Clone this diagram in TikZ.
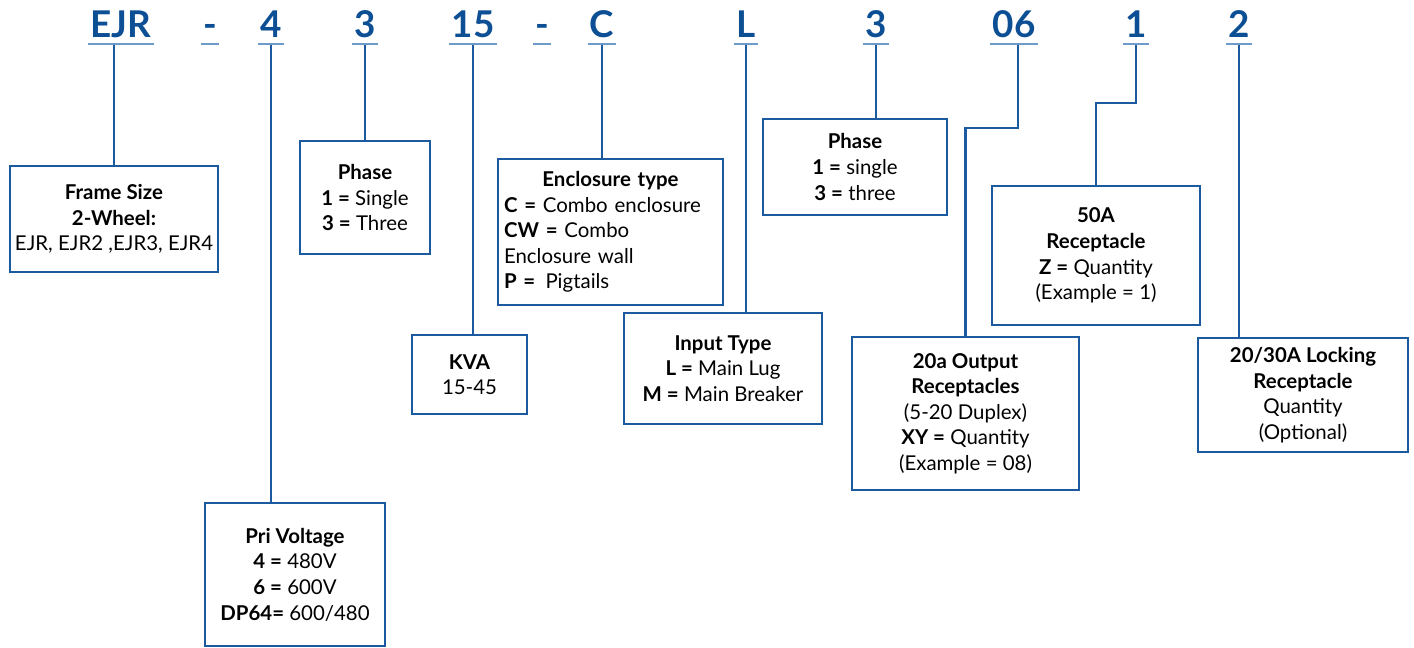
\documentclass[tikz,border=0pt]{standalone}
\usepackage{fontspec}
\setmainfont{Lato}
\definecolor{lineblue}{HTML}{1B5A9E}
\definecolor{headblue}{HTML}{0D4F94}
\definecolor{ulblue}{HTML}{6D9CCB}
\begin{document}
\begin{tikzpicture}[x=1bp,y=-1bp,
 box/.style={draw=lineblue, line width=2.6bp, align=center, inner sep=0pt, font=\fontsize{20.5}{25.7}\selectfont},
 conn/.style={draw=lineblue, line width=2.6bp},
 head/.style={text=headblue, font=\fontsize{37}{37}\selectfont\bfseries, anchor=base, inner xsep=2bp, inner ysep=0pt},
 uline/.style={draw=ulblue, line width=2bp}]
\useasboundingbox[fill=white] (0,0) rectangle (1414,648);

% header codes
\node[head] (hEJR) at (121,38) {EJR};
\node[head] (hd1) at (210,38) {-};
\node[head] (h4) at (271,38) {4};
\node[head] (h3) at (365,38) {3};
\node[head] (h15) at (473,38) {15};
\node[head] (hd2) at (542,38) {-};
\node[head] (hC) at (602,38) {C};
\node[head] (hL) at (746,38) {L};
\node[head] (h3b) at (876,38) {3};
\node[head] (h06) at (1014,38) {06};
\node[head] (h1) at (1136,38) {1};
\node[head] (h2) at (1239,38) {2};

\foreach \h in {hEJR,hd1,h4,h3,h15,hd2,hC,hL,h3b,h06,h1,h2}{
  \draw[uline] ([yshift=-6bp]\h.base west) -- ([yshift=-6bp]\h.base east);
  \coordinate (u\h) at ([yshift=-7bp]\h.base);
}

% boxes
\node[box, minimum width=208bp, minimum height=106bp] (fs) at (114,219)
 {\textbf{Frame Size}\\ \textbf{2-Wheel:}\\ EJR, EJR2 ,EJR3, EJR4};
\node[box, minimum width=130bp, minimum height=113bp] (ph) at (365,197.5)
 {\textbf{Phase}\\ \textbf{1 =} Single\\ \textbf{3 =} Three};
\node[box, align=left, text width=213bp, inner xsep=6bp, minimum height=146bp] (en) at (610.5,232)
 {\makebox[\linewidth]{\textbf{Enclosure type}}\\ \textbf{C =} Combo enclosure\\ \textbf{CW =} Combo\\ Enclosure wall\\ \textbf{P =}\enspace Pigtails};
\node[box, minimum width=115bp, minimum height=79bp] (kva) at (469.5,374.5)
 {\textbf{KVA}\\ 15-45};
\node[box, minimum width=198bp, minimum height=111bp] (it) at (723,368.5)
 {\textbf{Input Type}\\ \textbf{L =} Main Lug\\ \textbf{M =} Main Breaker};
\node[box, minimum width=184bp, minimum height=96bp] (ph2) at (855,167)
 {\textbf{Phase}\\ \textbf{1 =} single\\ \textbf{3 =} three};
\node[box, minimum width=208bp, minimum height=139bp] (fa) at (1096,255.5)
 {\textbf{50A}\\ \textbf{Receptacle}\\ \textbf{Z =} Quantity\\ (Example = 1)};
\node[box, minimum width=227bp, minimum height=153bp] (ro) at (965.5,413.5)
 {\textbf{20a Output}\\ \textbf{Receptacles}\\ (5-20 Duplex)\\ \textbf{XY =} Quantity\\ (Example = 08)};
\node[box, minimum width=210bp, minimum height=114bp] (lk) at (1303,395)
 {\textbf{20/30A Locking}\\ \textbf{Receptacle}\\ Quantity\\ (Optional)};
\node[box, minimum width=180bp, minimum height=143bp] (pv) at (295,574.5)
 {\textbf{Pri Voltage}\\ \textbf{4 =} 480V\\ \textbf{6 =} 600V\\ \textbf{DP64=} 600/480};

% connectors
\draw[conn] (uhEJR -| fs.north) -- (fs.north);
\draw[conn] (uh4) -- (uh4 |- pv.north);
\draw[conn] (uh3) -- (uh3 |- ph.north);
\draw[conn] (uh15) -- (uh15 |- kva.north);
\draw[conn] (uhC) -- (uhC |- en.north);
\draw[conn] (uhL) -- (uhL |- it.north);
\draw[conn] (uh3b) -- (uh3b |- ph2.north);
\draw[conn] ([xshift=4bp]uh06) -- ([xshift=4bp]uh06 |- 0,128) -- (ro.north |- 0,128) -- (ro.north);
\draw[conn] (uh1) -- (uh1 |- 0,103) -- (fa.north |- 0,103) -- (fa.north);
\draw[conn] (uh2) -- (uh2 |- lk.north);
\end{tikzpicture}
\end{document}
